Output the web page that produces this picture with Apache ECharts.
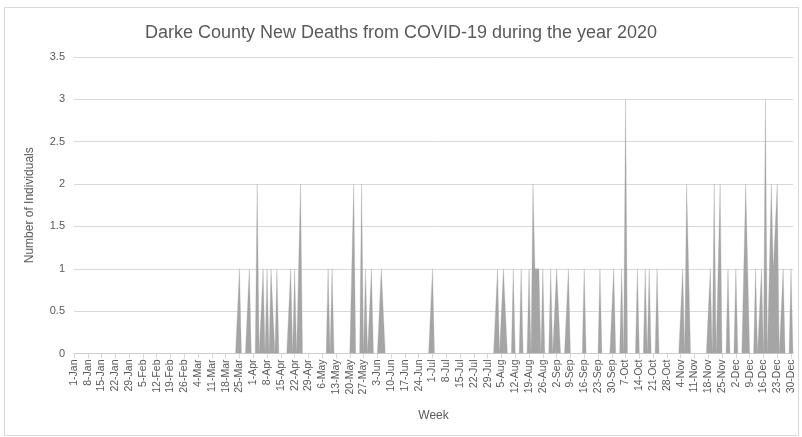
<!DOCTYPE html>
<html><head><meta charset="utf-8">
<script src="https://cdn.jsdelivr.net/npm/echarts/dist/echarts.min.js"></script>
<style>html,body{margin:0;padding:0;background:#fff}#c{width:802px;height:437px}</style>
</head><body><div id="c"></div>
<script>
// Calendar of 2020 (daily categories)
const monthNames = ['Jan','Feb','Mar','Apr','May','Jun','Jul','Aug','Sep','Oct','Nov','Dec'];
const monthLengths = [31,29,31,30,31,30,31,31,30,31,30,31];

// Days with reported new deaths (all other days: 0)
const deathDates = [
  '25-Mar','30-Mar','3-Apr','6-Apr','8-Apr','10-Apr','11-Apr','13-Apr','20-Apr','22-Apr','25-Apr',
  '9-May','11-May','22-May','26-May','28-May','31-May','5-Jun','6-Jun',
  '1-Jul','3-Aug','6-Aug','7-Aug','11-Aug','15-Aug','19-Aug','21-Aug','22-Aug','23-Aug','24-Aug',
  '26-Aug','30-Aug','2-Sep','3-Sep','8-Sep','16-Sep','24-Sep',
  '1-Oct','5-Oct','7-Oct','13-Oct','17-Oct','19-Oct','23-Oct',
  '5-Nov','7-Nov','8-Nov','19-Nov','21-Nov','24-Nov','28-Nov',
  '2-Dec','7-Dec','8-Dec','12-Dec','15-Dec','17-Dec','20-Dec','21-Dec','22-Dec','23-Dec','26-Dec','30-Dec'
];
const deathCounts = [
  1,1,2,1,1,1,1,1,1,1,2,
  1,1,2,2,1,1,1,1,
  1,1,1,1,1,1,1,2,1,1,1,
  1,1,1,1,1,1,1,
  1,1,3,1,1,1,1,
  1,2,2,1,2,2,1,
  1,2,2,1,1,3,2,1,1,2,1,1
];
const yMin = 0, yMax = 3.5, yStep = 0.5;

const categories = [];
monthNames.forEach((m, mi) => { for (let d = 1; d <= monthLengths[mi]; d++) categories.push(d + '-' + m); });
const values = categories.map(c => { const i = deathDates.indexOf(c); return i >= 0 ? deathCounts[i] : 0; });

const txt = '#595959';
const font = 'Liberation Sans';
const chart = echarts.init(document.getElementById('c'), null, {renderer: 'canvas'});
chart.setOption({
  animation: false,
  backgroundColor: '#fff',
  title: {
    text: 'Darke County New Deaths from COVID-19 during the year 2020',
    left: 'center', top: 19,
    textStyle: {color: txt, fontSize: 18, fontWeight: 'normal', fontFamily: font}
  },
  graphic: [{
    type: 'rect', shape: {x: 4.5, y: 7.5, width: 794, height: 428},
    style: {fill: 'none', stroke: '#d9d9d9', lineWidth: 1}, silent: true, z: -1
  }],
  grid: {left: 74, right: 9, top: 57, bottom: 83.5, containLabel: false},
  xAxis: {
    type: 'category', data: categories, boundaryGap: false,
    name: 'Week', nameLocation: 'middle', nameGap: 56,
    nameTextStyle: {color: txt, fontSize: 12, fontFamily: font},
    axisLine: {lineStyle: {color: '#d9d9d9'}},
    axisTick: {show: true, interval: 6, length: 5, lineStyle: {color: '#d9d9d9'}},
    axisLabel: {interval: 6, rotate: 90, color: txt, fontSize: 10.5, fontFamily: font, margin: 6},
    splitLine: {show: false}
  },
  yAxis: {
    type: 'value', min: yMin, max: yMax, interval: yStep,
    name: 'Number of Individuals', nameLocation: 'middle', nameGap: 38,
    nameTextStyle: {color: txt, fontSize: 12, fontFamily: font},
    axisLine: {show: false}, axisTick: {show: false},
    axisLabel: {color: txt, fontSize: 11, fontFamily: font, margin: 9},
    splitLine: {lineStyle: {color: '#d9d9d9', width: 1}}
  },
  series: [{
    type: 'line', data: values, showSymbol: false, symbol: 'none',
    lineStyle: {width: 0.3, color: '#a5a5a5'},
    areaStyle: {color: '#a5a5a5', opacity: 1}
  }]
});
</script></body></html>
